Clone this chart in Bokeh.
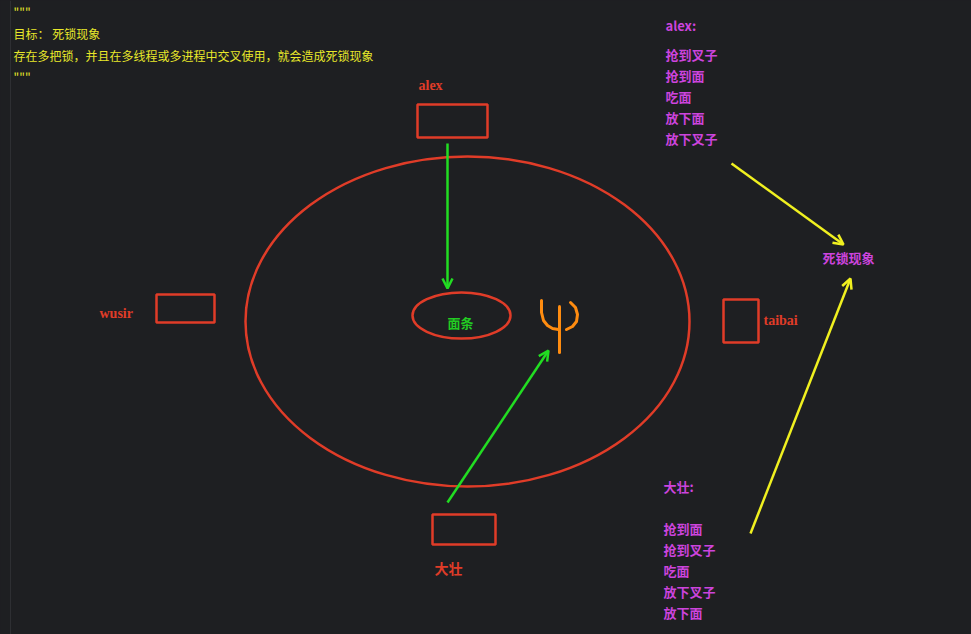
from bokeh.plotting import figure
from bokeh.models import Range1d, Arrow, OpenHead
from bokeh.core.properties import value
from bokeh.embed import file_html
from bokeh.resources import INLINE

BG = "#1e1f22"
RED = "#e03c28"
FONT = value("Noto Sans CJK SC")
SERIF = value("Liberation Serif, Noto Sans CJK SC")

# header comment text
header_text = ['"""', "目标： 死锁现象", "存在多把锁，并且在多线程或多进程中交叉使用，就会造成死锁现象", '"""']
header_y = [11, 33, 55, 76]

# boxes around the table: (x0, y0, x1, y1)
box_names = ["alex", "wusir", "taibai", "大壮"]
box_x0 = [417, 156, 723, 432]
box_y0 = [104, 294, 299, 514]
box_x1 = [487, 214, 758, 495]
box_y1 = [137, 322, 342, 544]
label_x = [418, 99, 763, 434]
label_y = [85, 313, 320, 569]

# arrows
arrow_x0 = [447, 447, 731, 750]
arrow_y0 = [143, 502, 163, 533]
arrow_x1 = [447, 548, 843, 850]
arrow_y1 = [288, 350, 244, 278]
arrow_col = ["#22dd22", "#22dd22", "#f0f020", "#f0f020"]

# side notes
alex_steps = ["alex:", "", "抢到叉子", "抢到面", "吃面", "放下面", "放下叉子"]
dz_steps = ["大壮:", "", "抢到面", "抢到叉子", "吃面", "放下叉子", "放下面"]

p = figure(width=971, height=634, x_range=Range1d(0, 971), y_range=Range1d(634, 0),
           output_backend="svg", toolbar_location=None, min_border=0,
           background_fill_color=BG, border_fill_color=BG, outline_line_color=None)
p.axis.visible = False
p.grid.visible = False

p.segment(x0=[10], y0=[0], x1=[10], y1=[634], line_color="#2e2f33", line_width=1)

p.text(x=[13] * 4, y=header_y, text=header_text, text_color="#e8e82a", text_font=FONT,
       text_font_size="12px", text_baseline="middle")

p.ellipse(x=[467], y=[321], width=[444], height=[330], fill_alpha=0, line_color=RED, line_width=2.5)
p.ellipse(x=[461], y=[315], width=[98], height=[46], fill_alpha=0, line_color=RED, line_width=2.5)
p.text(x=[460], y=[322], text=["面条"], text_color="#22cc22", text_font=FONT, text_font_size="13px",
       text_font_style="bold", text_align="center", text_baseline="middle")

p.quad(left=box_x0, right=box_x1, top=box_y0, bottom=box_y1, fill_alpha=0, line_color=RED, line_width=2.5)
p.text(x=label_x, y=label_y, text=box_names, text_color=RED, text_font=SERIF, text_font_size="14px",
       text_font_style="bold", text_baseline="middle")

for x0, y0, x1, y1, c in zip(arrow_x0, arrow_y0, arrow_x1, arrow_y1, arrow_col):
    p.add_layout(Arrow(x_start=x0, y_start=y0, x_end=x1, y_end=y1, line_color=c, line_width=2.5,
                       end=OpenHead(size=10, line_color=c, line_width=2.5)))

# fork (trident)
fork_xs = [[541, 541, 543, 547, 552, 558], [559, 559], [570, 575, 577, 576, 572, 566]]
fork_ys = [[300, 312, 320, 325, 328, 329], [306, 352], [302, 307, 314, 321, 326, 329]]
p.multi_line(xs=fork_xs, ys=fork_ys, line_color="#ff8c10", line_width=3, line_cap="round", line_join="round")

p.text(x=[665] * 7, y=[25, 40, 54, 75, 96, 117, 138], text=alex_steps, text_color="#cc44dd",
       text_font=FONT, text_font_size="13px", text_font_style="bold", text_baseline="middle")
p.text(x=[663] * 7, y=[486, 507, 528, 549, 570, 591, 612], text=dz_steps, text_color="#cc44dd",
       text_font=FONT, text_font_size="13px", text_font_style="bold", text_baseline="middle")
p.text(x=[822], y=[257], text=["死锁现象"], text_color="#cc44dd", text_font=FONT,
       text_font_size="13px", text_font_style="bold", text_baseline="middle")

html = file_html(p, INLINE).replace(
    "<body>", '<body style="background:%s;margin:0;overflow:hidden">' % BG)
open("out.html", "w").write(html)
